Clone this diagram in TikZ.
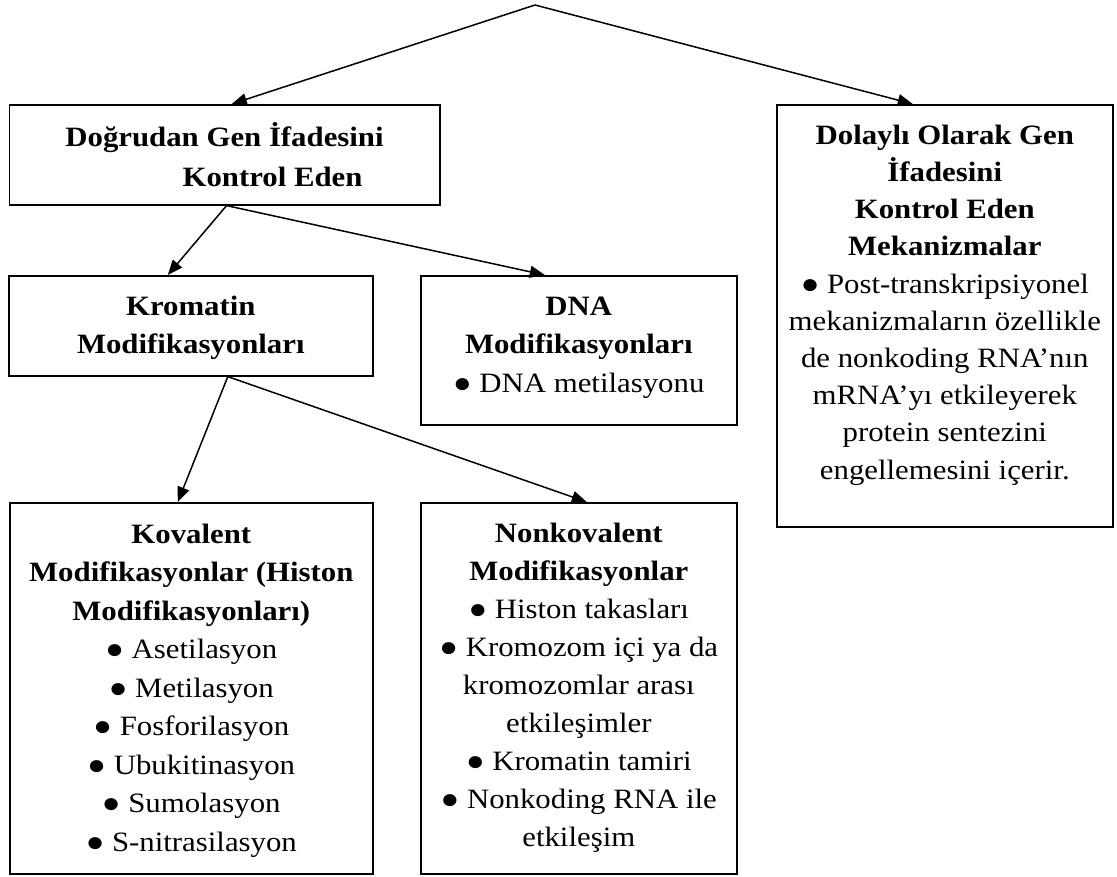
\documentclass[tikz,border=0pt]{standalone}
\usepackage{fontspec}
\setmainfont{Liberation Serif}[FakeStretch=1.1]
\usetikzlibrary{arrows.meta}
\begin{document}
\begin{tikzpicture}[x=1pt,y=-1pt,
  box/.style={draw, line width=1.6pt, inner sep=0pt, anchor=north west},
  txt/.style={align=center, inner sep=0pt, anchor=north, font=\fontsize{28}{38.5}\selectfont},
  arr/.style={line width=1.5pt, -{Triangle[length=15pt,width=12pt]}}]
\useasboundingbox (0,0) rectangle (1117,876);
% boxes
\node[box, minimum width=430.5pt, minimum height=100pt] (b1) at (8.5,104) {};
\node[box, minimum width=336pt, minimum height=422pt] (b2) at (776,104) {};
\node[box, minimum width=364pt, minimum height=100pt] (b3) at (8,275) {};
\node[box, minimum width=316pt, minimum height=149pt] (b4) at (420,275) {};
\node[box, minimum width=363pt, minimum height=371pt] (b5) at (9,502) {};
\node[box, minimum width=316pt, minimum height=371pt] (b6) at (420,502) {};
% texts
\node[txt, font=\fontsize{28}{40}\selectfont] (t1) at ([yshift=-14pt]b1.north)
  {\strut\textbf{Doğrudan Gen İfadesini}\\\hspace*{96pt}\textbf{Kontrol Eden}};
\node[txt, font=\fontsize{28}{37.2}\selectfont] (t2) at ([yshift=-14pt]b2.north)
  {\strut\textbf{Dolaylı Olarak Gen}\\\textbf{İfadesini}\\\textbf{Kontrol Eden}\\\textbf{Mekanizmalar}\\
   ● Post-transkripsiyonel\\mekanizmaların özellikle\\de nonkoding RNA’nın\\mRNA’yı etkileyerek\\protein sentezini\\engellemesini içerir.};
\node[txt] (t3) at ([yshift=-13pt]b3.north)
  {\strut\textbf{Kromatin}\\\textbf{Modifikasyonları}};
\node[txt] (t4) at ([yshift=-13pt]b4.north)
  {\strut\textbf{DNA}\\\textbf{Modifikasyonları}\\● DNA metilasyonu};
\node[txt] (t5) at ([yshift=-14pt]b5.north)
  {\strut\textbf{Kovalent}\\\textbf{Modifikasyonlar (Histon}\\\textbf{Modifikasyonları)}\\
   ● Asetilasyon\\● Metilasyon\\● Fosforilasyon\\● Ubukitinasyon\\● Sumolasyon\\● S-nitrasilasyon};
\node[txt, font=\fontsize{28}{38}\selectfont] (t6) at ([yshift=-14pt]b6.north)
  {\strut\textbf{Nonkovalent}\\\textbf{Modifikasyonlar}\\● Histon takasları\\● Kromozom içi ya da\\kromozomlar arası\\etkileşimler\\
   ● Kromatin tamiri\\● Nonkoding RNA ile\\etkileşim};
% connectors
\coordinate (top) at (535,5);
\draw[arr] (top) -- ([xshift=7.25pt]b1.north);
\draw[arr] (top) -- ([xshift=-32pt]b2.north);
\draw[arr] ([xshift=2pt]b1.south) -- ([xshift=-23pt]b3.north);
\draw[arr] ([xshift=2pt]b1.south) -- ([xshift=-34pt]b4.north);
\draw[arr] ([xshift=37pt]b3.south) -- ([xshift=-13.5pt]b5.north);
\draw[arr] ([xshift=37pt]b3.south) -- ([xshift=8pt]b6.north);
\end{tikzpicture}
\end{document}
